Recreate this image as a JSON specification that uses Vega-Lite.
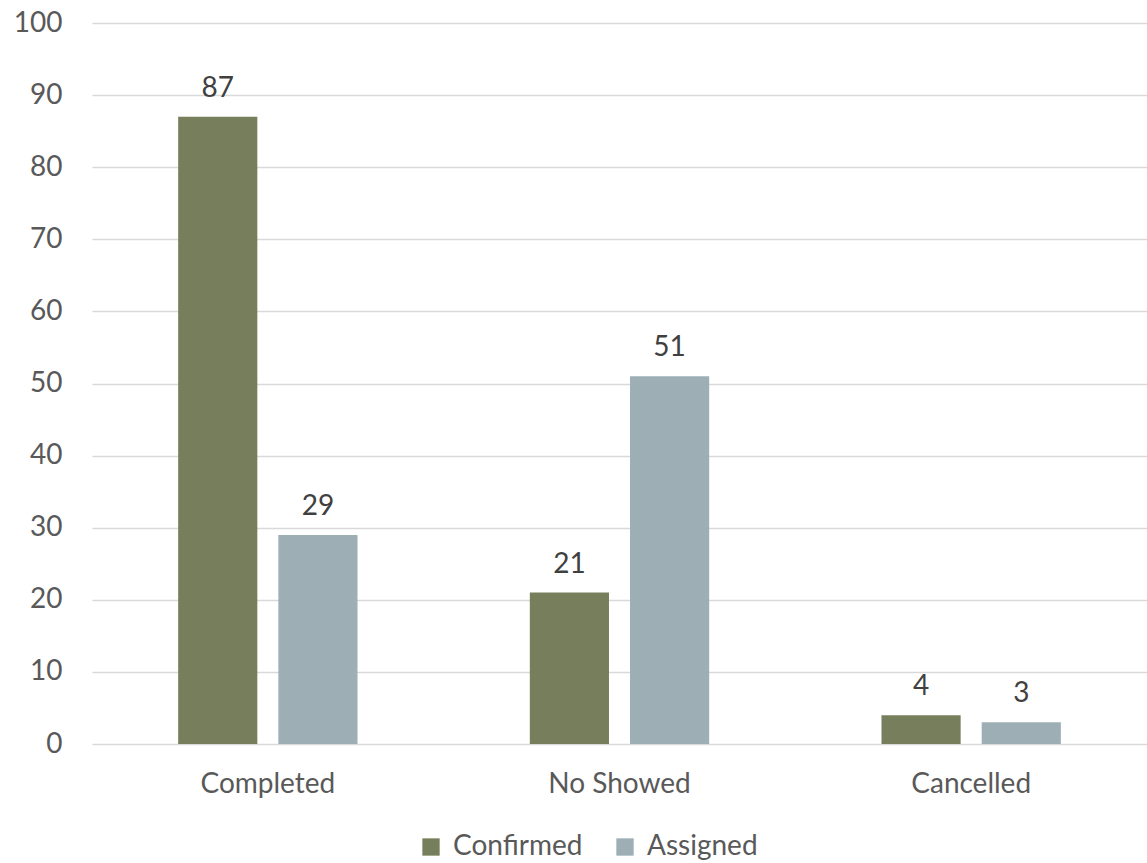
{
  "$schema": "https://vega.github.io/schema/vega-lite/v6.json",
  "width": 1055,
  "height": 721,
  "autosize": {"type": "none"},
  "padding": {"left": 92, "top": 23, "right": 0, "bottom": 119},
  "background": "white",
  "config": {
    "font": "Lato",
    "view": {"stroke": null}
  },
  "data": {
    "values": [
      {"status": "Completed", "type": "Confirmed", "count": 87},
      {"status": "Completed", "type": "Assigned", "count": 29},
      {"status": "No Showed", "type": "Confirmed", "count": 21},
      {"status": "No Showed", "type": "Assigned", "count": 51},
      {"status": "Cancelled", "type": "Confirmed", "count": 4},
      {"status": "Cancelled", "type": "Assigned", "count": 3}
    ]
  },
  "encoding": {
    "x": {
      "field": "status",
      "type": "nominal",
      "sort": ["Completed", "No Showed", "Cancelled"],
      "scale": {"paddingInner": 0.49, "paddingOuter": 0.245},
      "axis": {
        "title": null,
        "labelAngle": 0,
        "domain": false,
        "ticks": false,
        "labelFontSize": 28,
        "labelColor": "#595959",
        "labelPadding": 26
      }
    },
    "xOffset": {
      "field": "type",
      "type": "nominal",
      "sort": ["Confirmed", "Assigned"],
      "scale": {"paddingInner": 0.21, "paddingOuter": 0}
    },
    "y": {
      "field": "count",
      "type": "quantitative",
      "scale": {"domain": [0, 100]},
      "axis": {
        "title": null,
        "values": [0, 10, 20, 30, 40, 50, 60, 70, 80, 90, 100],
        "labelOverlap": false,
        "domain": false,
        "ticks": false,
        "labelFontSize": 28,
        "labelColor": "#595959",
        "labelPadding": 30,
        "gridColor": "#d9d9d9",
        "gridWidth": 1.5
      }
    }
  },
  "layer": [
    {
      "mark": {"type": "bar"},
      "encoding": {
        "color": {
          "field": "type",
          "type": "nominal",
          "sort": ["Confirmed", "Assigned"],
          "scale": {"domain": ["Confirmed", "Assigned"], "range": ["#777e5b", "#9daeb4"]},
          "legend": {
            "title": null,
            "orient": "none",
            "direction": "horizontal",
            "legendX": 325,
            "legendY": 810,
            "symbolType": "square",
            "symbolSize": 300,
            "symbolOpacity": 1,
            "labelFontSize": 28,
            "labelColor": "#595959",
            "labelOffset": 8,
            "columnPadding": 28
          }
        }
      }
    },
    {
      "mark": {"type": "text", "dy": -14, "fontSize": 28, "color": "#404040", "baseline": "bottom"},
      "encoding": {
        "text": {"field": "count", "type": "quantitative"}
      }
    }
  ]
}
